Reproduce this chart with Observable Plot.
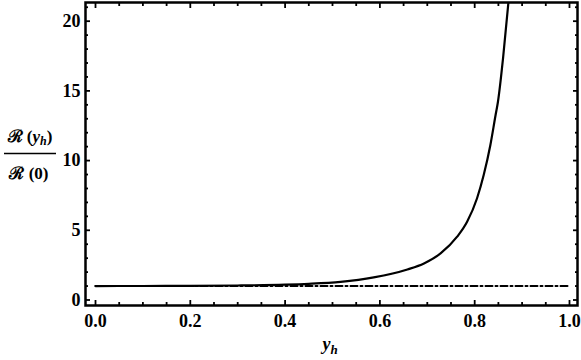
<!DOCTYPE html>
<html>
<head>
<meta charset="utf-8">
<script src="https://cdn.jsdelivr.net/npm/d3@7"></script>
<script src="https://cdn.jsdelivr.net/npm/@observablehq/plot@0.6"></script>
<style>
  html, body { margin: 0; padding: 0; background: #fff; }
  #chart { position: relative; width: 581px; height: 360px; }
</style>
</head>
<body>
<div id="chart"></div>
<script>
// Curve R(y_h)/R(0)
const yh = [0, 0.1, 0.2, 0.3, 0.4, 0.45, 0.517, 0.587, 0.658, 0.693, 0.728, 0.763, 0.784, 0.805, 0.819, 0.833, 0.844, 0.849, 0.86, 0.871];
const ratio = [1.0, 1.005, 1.015, 1.04, 1.1, 1.16, 1.3, 1.62, 2.19, 2.62, 3.34, 4.54, 5.61, 7.3, 8.96, 11.1, 13.25, 14.2, 17.4, 21.3];
// Reference dash-dot line
const refX = [0, 1];
const refY = [1, 1];
// Ticks
const xMajor = [0, 0.2, 0.4, 0.6, 0.8, 1.0];
const xMinor = [0.05, 0.1, 0.15, 0.25, 0.3, 0.35, 0.45, 0.5, 0.55, 0.65, 0.7, 0.75, 0.85, 0.9, 0.95];
const yMajor = [0, 5, 10, 15, 20];
const yMinor = [1, 2, 3, 4, 6, 7, 8, 9, 11, 12, 13, 14, 16, 17, 18, 19, 21];

const curve = yh.map((x, i) => ({x, y: ratio[i]}));
const ref = refX.map((x, i) => ({x, y: refY[i]}));
const blank = () => "";
const font = "Liberation Serif";

const tickStyle = {stroke: "black", strokeWidth: 1.8, label: null};
const labelStyle = {fill: "black", fontFamily: font, fontWeight: "bold", fontSize: 18, label: null};

const plot = Plot.plot({
  width: 581,
  height: 360,
  marginLeft: 85,
  marginRight: 4,
  marginTop: 2,
  marginBottom: 55,
  x: {domain: [-0.0211, 1.0169]},
  y: {domain: [-0.395, 21.34]},
  style: {fontFamily: font, fontSize: "18px", color: "black", background: "white"},
  marks: [
    // labels
    Plot.axisX(xMajor, {anchor: "bottom", tickSize: 0, tickPadding: 9, tickFormat: d3.format(".1f"), ...labelStyle}),
    Plot.axisY(yMajor, {anchor: "left", tickSize: 0, tickPadding: 5, tickFormat: d3.format("d"), ...labelStyle}),
    // inward ticks on all sides
    Plot.axisX(xMajor, {anchor: "bottom", tickSize: -5, tickFormat: blank, ...tickStyle}),
    Plot.axisX(xMinor, {anchor: "bottom", tickSize: -3, tickFormat: blank, ...tickStyle}),
    Plot.axisX(xMajor, {anchor: "top", tickSize: -5, tickFormat: blank, ...tickStyle}),
    Plot.axisX(xMinor, {anchor: "top", tickSize: -3, tickFormat: blank, ...tickStyle}),
    Plot.axisY(yMajor, {anchor: "left", tickSize: -5, tickFormat: blank, ...tickStyle}),
    Plot.axisY(yMinor, {anchor: "left", tickSize: -3, tickFormat: blank, ...tickStyle}),
    Plot.axisY(yMajor, {anchor: "right", tickSize: -5, tickFormat: blank, ...tickStyle}),
    Plot.axisY(yMinor, {anchor: "right", tickSize: -3, tickFormat: blank, ...tickStyle}),
    Plot.line(ref, {x: "x", y: "y", stroke: "black", strokeWidth: 2, strokeDasharray: "7,3,2,3"}),
    Plot.line(curve, {x: "x", y: "y", stroke: "black", strokeWidth: 2.2, curve: "monotone-x", clip: true}),
    Plot.frame({stroke: "black", strokeWidth: 2.5})
  ]
});

document.getElementById("chart").appendChild(plot);

// Axis titles as real SVG text
const svg = d3.select(plot);
const xl = svg.append("text")
  .attr("x", 330).attr("y", 350)
  .attr("text-anchor", "middle")
  .attr("font-family", font).attr("font-size", 18)
  .attr("font-weight", "bold").attr("font-style", "italic").attr("fill", "black");
xl.append("tspan").text("y");
xl.append("tspan").attr("font-size", 13).attr("dy", 4).text("h");

const num = svg.append("text")
  .attr("x", 30).attr("y", 142)
  .attr("text-anchor", "middle")
  .attr("font-family", font).attr("font-size", 17).attr("fill", "black").attr("font-weight", "bold");
num.append("tspan").text("\u211B (");
num.append("tspan").attr("font-style", "italic").text("y");
num.append("tspan").attr("font-style", "italic").attr("font-size", 12).attr("dy", 3).text("h");
num.append("tspan").attr("dy", -3).text(")");

svg.append("line")
  .attr("x1", 4).attr("x2", 56).attr("y1", 153.5).attr("y2", 153.5)
  .attr("stroke", "black").attr("stroke-width", 1.6);

svg.append("text")
  .attr("x", 29).attr("y", 179)
  .attr("text-anchor", "middle")
  .attr("font-family", font).attr("font-size", 17).attr("fill", "black").attr("font-weight", "bold")
  .text("\u211B (0)");
</script>
</body>
</html>
